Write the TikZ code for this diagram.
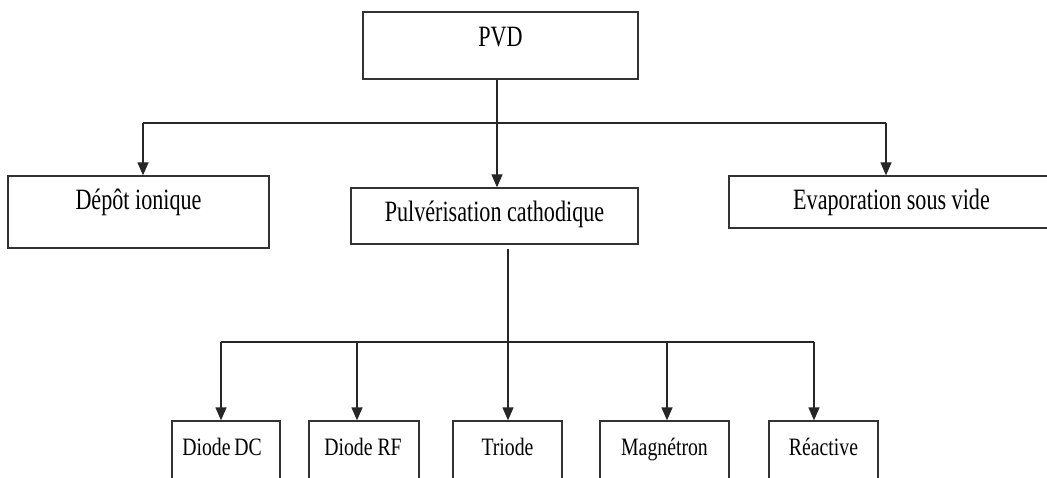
\documentclass[tikz,border=0pt]{standalone}
\usepackage{fontspec}
\setmainfont{Liberation Serif}[FakeStretch=0.75]
\newfontfamily\smallf{Liberation Serif}[FakeStretch=0.79]
\usetikzlibrary{arrows.meta}
\begin{document}
\begin{tikzpicture}[x=1pt,y=-1pt,
  box/.style={draw=black!80, line width=1.3pt, rectangle, inner sep=0pt, fill=white},
  lbl/.style={anchor=base, inner sep=0pt, font=\fontsize{29.5}{31}\selectfont},
  slbl/.style={anchor=base, inner sep=0pt, font=\smallf\fontsize{25}{27}\selectfont},
  conn/.style={draw=black!85, line width=1.3pt},
  arr/.style={conn, -{Triangle[length=13pt,width=11pt]}}]
\useasboundingbox (0,0) rectangle (1047,478);
\clip (0,0) rectangle (1047,478);
% level 0
\node[box, minimum width=275pt, minimum height=67pt] (pvd) at (500.5,45.5) {};
\node[lbl] (pvdt) at (500.5,47) {PVD};
% level 1
\node[box, minimum width=261pt, minimum height=72pt] (dep) at (138.5,212) {};
\node[lbl] (dept) at (138.5,210) {Dépôt ionique};
\node[box, minimum width=287pt, minimum height=56pt] (pulv) at (494.5,216) {};
\node[lbl] (pulvt) at (494.5,222) {Pulvérisation cathodique};
\node[box, minimum width=325pt, minimum height=52pt] (evap) at (891.5,202) {};
\node[lbl] (evapt) at (891.5,210) {Evaporation sous vide};
% level 2
\node[box, minimum width=108pt, minimum height=79pt] (ddc) at (226,460.5) {};
\node[slbl] (ddct) at (222,455) {Diode\hspace{0.15em}DC};
\node[box, minimum width=110pt, minimum height=79pt] (drf) at (364,460.5) {};
\node[slbl] (drft) at (363,455) {Diode RF};
\node[box, minimum width=109pt, minimum height=79pt] (tri) at (507.5,460.5) {};
\node[slbl] (trit) at (507.5,455) {Triode};
\node[box, minimum width=129pt, minimum height=79pt] (mag) at (664.5,460.5) {};
\node[slbl] (magt) at (664.5,455) {Magnétron};
\node[box, minimum width=109pt, minimum height=79pt] (rea) at (823.5,460.5) {};
\node[slbl] (reat) at (823.5,455) {Réactive};
% junctions level 1
\coordinate (j0) at (497,123);
\coordinate (jl) at (143,123);
\coordinate (jr) at (886,123);
\draw[conn] (pvd.south -| j0) -- (j0);
\draw[conn] (jl) -- (jr);
\draw[arr] (jl) -- (jl |- dep.north);
\draw[arr] (j0) -- (j0 |- pulv.north);
\draw[arr] (jr) -- (jr |- evap.north);
% junctions level 2
\coordinate (k0) at (508,342);
\coordinate (k1) at (221,342);
\coordinate (k2) at (357,342);
\coordinate (k4) at (667,342);
\coordinate (k5) at (814,342);
\draw[arr, shorten <=4pt] (pulv.south -| k0) -- (k0 |- tri.north);
\draw[conn] (k1) -- (k5);
\draw[arr] (k1) -- (k1 |- ddc.north);
\draw[arr] (k2) -- (k2 |- drf.north);
\draw[arr] (k4) -- (k4 |- mag.north);
\draw[arr] (k5) -- (k5 |- rea.north);
\end{tikzpicture}
\end{document}
